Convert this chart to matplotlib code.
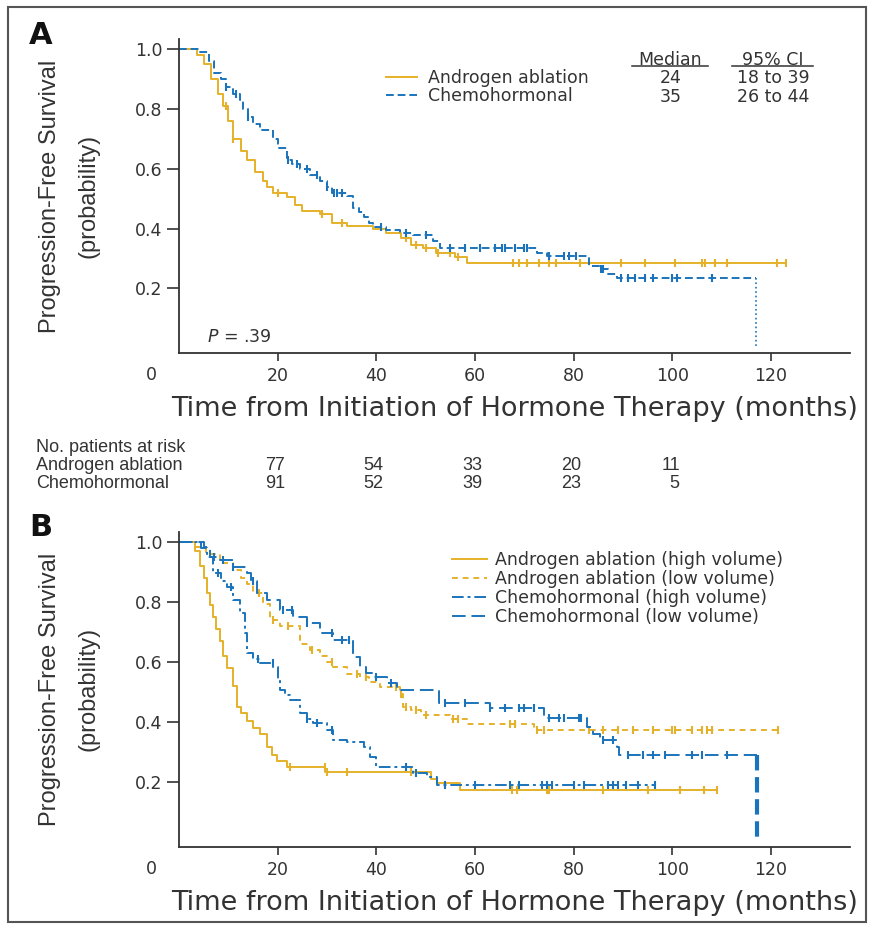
import numpy as np
import matplotlib
matplotlib.use("Agg")
from matplotlib import pyplot as plt
from matplotlib.lines import Line2D
from matplotlib.patches import Rectangle
from matplotlib.transforms import blended_transform_factory

GOLD = "#E6B12A"
BLUE = "#1B74BB"
DARK = "#333333"

# ---- panel A: all patients ----
a_and_t = [0, 3.7, 5, 6.5, 8, 9, 10, 11, 12.5, 13.8, 15.5, 17, 17.8, 19, 21.8, 23.5, 25,
           28.6, 31, 34, 39.4, 42, 45, 47, 49.5, 52, 56, 58.4, 123]
a_and_s = [1.0, 0.98, 0.95, 0.90, 0.85, 0.81, 0.76, 0.70, 0.66, 0.63, 0.59, 0.56, 0.54, 0.52, 0.505, 0.48, 0.46,
           0.45, 0.42, 0.41, 0.40, 0.385, 0.37, 0.345, 0.335, 0.32, 0.305, 0.285, 0.285]
a_and_cens = [9.6, 11, 20, 29, 33, 46, 48, 50, 52.5, 55, 56.5, 67.7, 69, 70.6, 73, 75, 76.5, 81.3,
              89.5, 94.5, 100.6, 106, 106.7, 108.7, 111, 121.3, 123]

a_chemo_t = [0, 4, 6, 7, 8.5, 9.6, 11, 12.4, 13, 14, 15, 16.4, 19, 20, 21.8, 23, 24.5, 26.5, 28.6, 30,
             31, 34, 35.3, 36.5, 37.4, 38.5, 39.4, 42, 44.8, 47.5, 51.5, 53, 72.6, 74.6, 83, 85.4, 87,
             88.8, 117]
a_chemo_s = [1.0, 0.99, 0.96, 0.92, 0.90, 0.875, 0.85, 0.83, 0.80, 0.775, 0.75, 0.73, 0.70, 0.67, 0.63,
             0.615, 0.60, 0.58, 0.56, 0.54, 0.52, 0.51, 0.47, 0.455, 0.44, 0.42, 0.405, 0.395, 0.385, 0.38,
             0.36, 0.335, 0.32, 0.31, 0.275, 0.265, 0.25, 0.235, 0.0]
a_chemo_cens = [9.6, 11.6, 14, 22, 24, 26, 28, 30, 31.5, 32, 33, 41, 46, 50, 55, 58, 61, 64, 65.5, 66,
                68, 70, 70.5, 75, 78, 79, 80.5, 85.5, 86, 89.5, 91, 92.5, 94.5, 96, 100, 101, 108]

# ---- panel B: by disease volume ----
b_and_hi_t = [0, 3.2, 4.3, 5, 5.6, 6.3, 6.9, 7.6, 8.3, 9, 9.7, 11, 11.7, 12.5, 13.7, 15, 16.4, 17.8,
              18.8, 19.8, 21.8, 29.6, 51, 52.3, 57, 109]
b_and_hi_s = [1.0, 0.97, 0.92, 0.88, 0.83, 0.79, 0.75, 0.71, 0.67, 0.62, 0.58, 0.52, 0.45, 0.43, 0.405,
              0.38, 0.36, 0.317, 0.29, 0.27, 0.25, 0.233, 0.21, 0.195, 0.172, 0.172]
b_and_hi_cens = [22.5, 29.5, 30, 34, 47, 67.5, 68.5, 74.5, 75, 86, 95, 101.5, 106.5, 109]

b_and_lo_t = [0, 3.2, 5.5, 8.3, 11, 12.5, 13.7, 15, 17, 18.5, 20.5, 24.5, 26.5, 28.6, 30, 31.2, 34,
              36.7, 38.5, 40.8, 44.8, 45.5, 47, 49, 55, 58.4, 72, 121.5]
b_and_lo_s = [1.0, 0.985, 0.96, 0.93, 0.907, 0.88, 0.86, 0.83, 0.795, 0.74, 0.72, 0.66, 0.64, 0.62, 0.60,
              0.585, 0.56, 0.55, 0.535, 0.517, 0.495, 0.45, 0.44, 0.423, 0.41, 0.395, 0.373, 0.373]
b_and_lo_cens = [16.3, 19, 22, 27, 31, 36, 38, 44, 45, 46, 48, 50, 55.5, 56.5, 67, 68, 72.5, 74, 83, 86,
                 89, 92, 96, 100, 100.5, 104, 106, 107, 108, 121.5]

b_chemo_hi_t = [0, 4.5, 5.6, 6.9, 8.5, 9.7, 11, 12.4, 13.4, 13.7, 15, 16.4, 19.1, 20, 20.5, 21.5, 22.5,
                24.5, 26, 27.2, 30, 31.2, 34, 37.4, 38.7, 40, 47.5, 50.2, 52.3, 96.5]
b_chemo_hi_s = [1.0, 0.98, 0.95, 0.897, 0.87, 0.85, 0.807, 0.763, 0.697, 0.63, 0.61, 0.596, 0.584, 0.54,
                0.506, 0.49, 0.473, 0.43, 0.41, 0.396, 0.373, 0.34, 0.334, 0.317, 0.284, 0.25, 0.229,
                0.217, 0.19, 0.19]
b_chemo_hi_cens = [8, 10.5, 16, 19, 26, 28, 31, 46, 48, 54, 60, 67, 69, 73.5, 74.5, 75.5, 80, 82, 87,
                   88, 89, 90.5, 93, 96.5]

b_chemo_lo_t = [0, 5, 6.3, 8.3, 11, 13.7, 14.5, 15.8, 17.8, 20.5, 23.2, 25.9, 28.6, 31.2, 35.3, 36.7,
                38, 39.4, 42.1, 44.1, 52.6, 63, 73.9, 82.7, 84, 85.4, 88.8, 89.1, 117.2]
b_chemo_lo_s = [1.0, 0.985, 0.95, 0.94, 0.918, 0.897, 0.87, 0.83, 0.807, 0.773, 0.75, 0.73, 0.697, 0.673,
                0.617, 0.584, 0.565, 0.55, 0.529, 0.506, 0.463, 0.446, 0.413, 0.384, 0.36, 0.34, 0.317,
                0.29, 0.0]
b_chemo_lo_cens = [7, 9, 11, 15, 21, 23, 26, 31, 33, 34.5, 40, 43, 54, 58, 63, 66, 69, 70, 72, 75, 77,
                   78, 81, 81.5, 86, 88, 91, 94, 96, 98.5, 104, 106, 111]

# ---- text content ----
x_ticks = [20, 40, 60, 80, 100, 120]
y_ticks = [0.2, 0.4, 0.6, 0.8, 1.0]
risk_times = [20, 40, 60, 80, 100]
risk_rows = ["Androgen ablation", "Chemohormonal"]
risk_and = [77, 54, 33, 20, 11]
risk_chemo = [91, 52, 39, 23, 5]
median_vals = ["24", "35"]
ci_vals = ["18 to 39", "26 to 44"]
legend_a = ["Androgen ablation", "Chemohormonal"]
legend_b = ["Androgen ablation (high volume)", "Androgen ablation (low volume)",
            "Chemohormonal (high volume)", "Chemohormonal (low volume)"]

W, H = 875, 933


def px(x, y):
    # figure pixel (from top-left) -> figure fraction
    return x / W, 1 - y / H


def km_curve(ax, t, s, cens, color, ls, lw=1.4, drop_ls=None, drop_lw=1.0):
    t = np.asarray(t, float)
    s = np.asarray(s, float)
    drop = s[-1] == 0.0
    tt, ss = (t[:-1], s[:-1]) if drop else (t, s)
    if drop:
        tt = np.append(tt, t[-1])
        ss = np.append(ss, ss[-1])
    line, = ax.step(tt, ss, where="post", color=color, lw=lw)
    if isinstance(ls, tuple):
        line.set_dashes(ls)
    else:
        line.set_linestyle(ls)
    if drop:
        ax.plot([t[-1], t[-1]], [s[-2], 0], color=color, lw=drop_lw, ls=drop_ls)
    idx = np.searchsorted(t, cens, side="right") - 1
    ax.plot(cens, s[idx], ls="none", marker="|", ms=5.5, mew=1.5, color=color)
    return line


def style_axes(ax):
    ax.set_xlim(0, 136)
    ax.set_ylim(-0.016, 1.035)
    for side in ["top", "right"]:
        ax.spines[side].set_visible(False)
    for side in ["left", "bottom"]:
        ax.spines[side].set_color(DARK)
        ax.spines[side].set_linewidth(1.3)
    ax.set_xticks(x_ticks)
    ax.set_yticks(y_ticks)
    ax.set_yticklabels([f"{v:.1f}" for v in y_ticks])
    ax.tick_params(axis="y", length=9, width=1.2, color=DARK, pad=3, labelsize=12.5, labelcolor=DARK)
    ax.tick_params(axis="x", length=6, width=1.2, color=DARK, pad=4, labelsize=12.5, labelcolor=DARK)
    ax.text(-5.5, -0.042, "0", transform=blended_transform_factory(ax.transData, ax.transAxes),
            ha="center", va="top", fontsize=12.5, color=DARK)
    ax.set_xlabel("Time from Initiation of Hormone Therapy (months)", fontsize=19.5, color=DARK,
                  labelpad=8)
    ax.set_ylabel("Progression-Free Survival\n(probability)", family="Liberation Sans",
                  fontsize=17, color=DARK, linespacing=2.0)
    ax.yaxis.set_label_coords(-0.118, 0.5)


fig = plt.figure(figsize=(W / 100, H / 100), dpi=100)

axA = fig.add_axes([179 / W, 1 - 353 / H, 671 / W, 314 / H])
axB = fig.add_axes([179 / W, 1 - 846.7 / H, 671 / W, 315 / H])

# panel A
hA1 = km_curve(axA, a_and_t, a_and_s, a_and_cens, GOLD, "-")
hA2 = km_curve(axA, a_chemo_t, a_chemo_s, a_chemo_cens, BLUE, (4, 2), drop_ls=":", drop_lw=1.2)
style_axes(axA)
axA.text(0.042, 0.05, "$\\it{P}$ = .39", transform=axA.transAxes, fontsize=12.5, color=DARK,
         ha="left", va="center")
fig.legend([hA1, hA2], legend_a, loc="upper left", bbox_to_anchor=px(386, 69), frameon=False,
           fontsize=12.5, handlelength=1.8, handletextpad=0.6, labelspacing=0.0, borderpad=0,
           borderaxespad=0, labelcolor=DARK)
fig.text(*px(670, 60), "Median", ha="center", va="center", fontsize=12.5, color=DARK)
fig.text(*px(773, 60), "95% CI", ha="center", va="center", fontsize=12.5, color=DARK)
fig.add_artist(Line2D([632 / W, 708 / W], [1 - 66 / H] * 2, color=DARK, lw=1.1))
fig.add_artist(Line2D([732 / W, 813 / W], [1 - 66 / H] * 2, color=DARK, lw=1.1))
for i, (m, ci) in enumerate(zip(median_vals, ci_vals)):
    fig.text(*px(671, 78 + 19 * i), m, ha="center", va="center", fontsize=12.5, color=DARK)
    fig.text(*px(773, 78 + 19 * i), ci, ha="center", va="center", fontsize=12.5, color=DARK)

# patients at risk table
RISK_FONT = dict(family="Liberation Sans", fontsize=13, color=DARK, va="center")
risk_tr = blended_transform_factory(axA.transData, fig.transFigure)
fig.text(*px(36, 448), "No. patients at risk", **RISK_FONT)
for i, (name, vals) in enumerate(zip(risk_rows, [risk_and, risk_chemo])):
    yy = 1 - (466 + 18 * i) / H
    fig.text(36 / W, yy, name, **RISK_FONT)
    for t, v in zip(risk_times, vals):
        fig.text(t + 1.5, yy, str(v), transform=risk_tr, ha="right", **RISK_FONT)

# panel B
hB1 = km_curve(axB, b_and_hi_t, b_and_hi_s, b_and_hi_cens, GOLD, "-")
hB2 = km_curve(axB, b_and_lo_t, b_and_lo_s, b_and_lo_cens, GOLD, (3, 2.5))
hB3 = km_curve(axB, b_chemo_hi_t, b_chemo_hi_s, b_chemo_hi_cens, BLUE, (6, 2, 1.5, 2))
hB4 = km_curve(axB, b_chemo_lo_t, b_chemo_lo_s, b_chemo_lo_cens, BLUE, (7, 3), drop_ls="--",
               drop_lw=3)
style_axes(axB)
fig.legend([hB1, hB2, hB3, hB4], legend_b, loc="upper left", bbox_to_anchor=px(452, 551),
           frameon=False, fontsize=12.5, handlelength=2.0, handletextpad=0.45, labelspacing=0.05,
           borderpad=0, borderaxespad=0, labelcolor=DARK)

# panel letters
fig.text(*px(29, 35), "A", fontsize=22, fontweight="bold", color="#111111", va="center")
fig.text(*px(29, 527), "B", fontsize=22, fontweight="bold", color="#111111", va="center")

# outer frame
fig.add_artist(Rectangle((8 / W, 1 - 922 / H), 858 / W, 915 / H, transform=fig.transFigure,
                         fill=False, edgecolor="#555555", lw=1.5))

fig.savefig("out.png", dpi=100)
